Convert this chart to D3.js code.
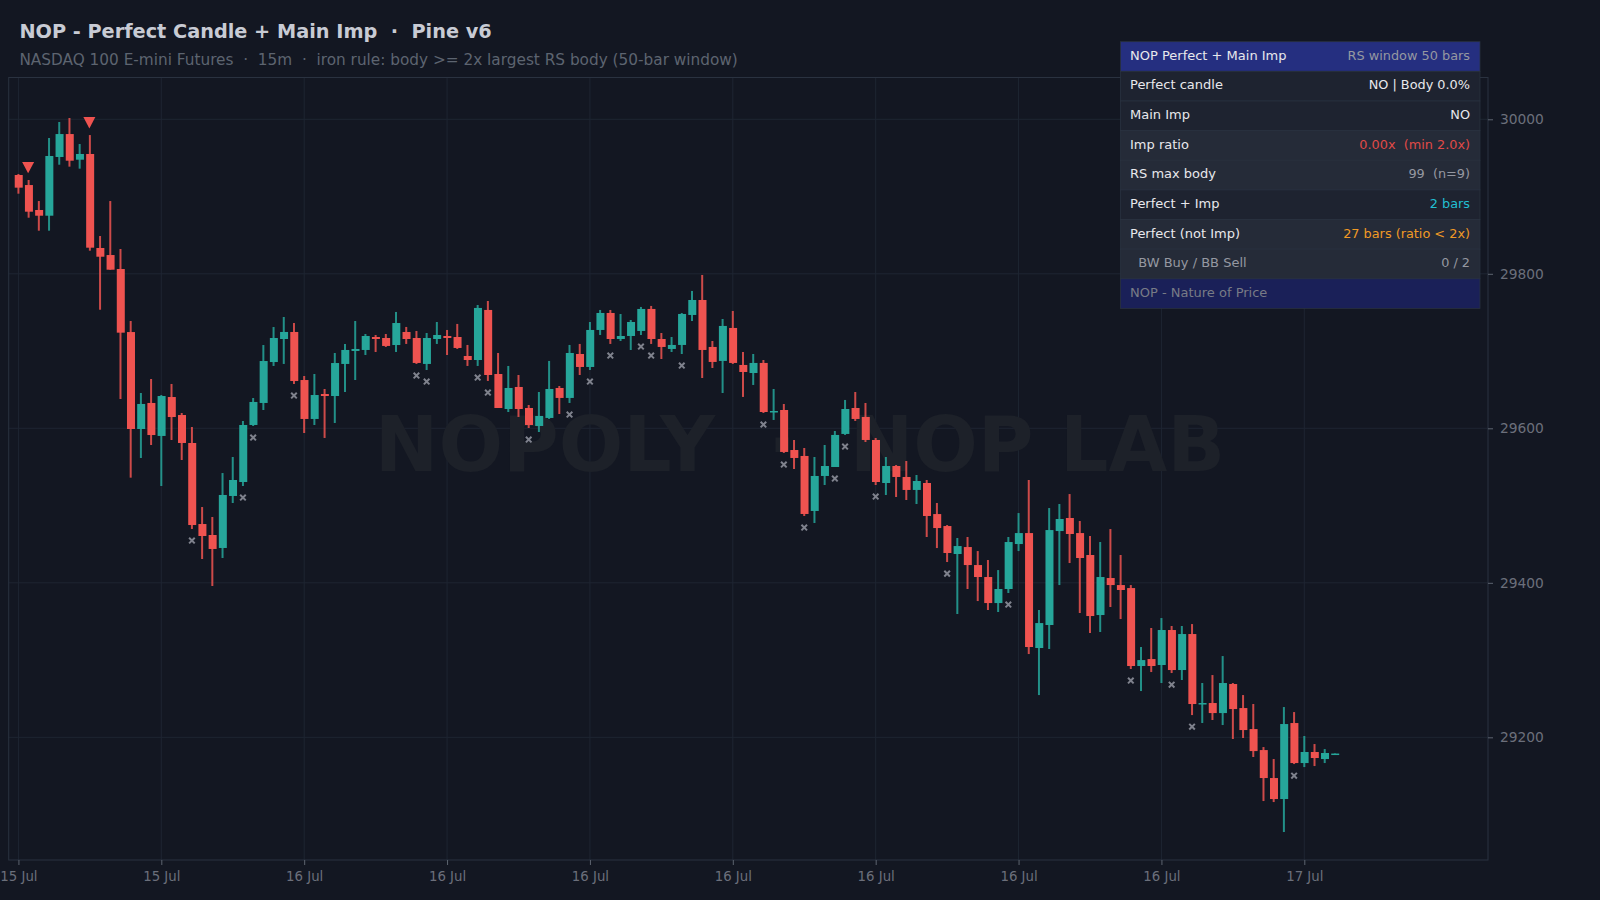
<!DOCTYPE html>
<html>
<head>
<meta charset="utf-8">
<title>NOP - Perfect Candle + Main Imp</title>
<script src="https://cdn.jsdelivr.net/npm/d3@7"></script>
<style>
    html, body { margin: 0; padding: 0; background: #131722; }
    svg { display: block; }
    text { font-family: "DejaVu Sans", sans-serif; white-space: pre; }
</style>
</head>
<body>
<div id="chart"></div>
<script>
// OHLC values, one entry per 15m bar
const opens = [29927.9,29914.9,29882.6,29875.2,29951.2,29980.9,29947.7,29955.1,29833.4,29824.3,29806.2,29724.6,29599.1,29632.8,29590.1,29640.5,29617.2,29581,29476.1,29461.9,
    29445.1,29512.4,29530.5,29604.3,29632.8,29685.8,29715.6,29724.7,29662.5,29612.1,29644.4,29641.8,29683.3,29700.1,29701.4,29718.2,29716.9,29707.8,29724.7,29716.9,
    29683.3,29715.6,29719.5,29718.2,29693.6,29688.4,29753.2,29670.3,29625,29653.5,29626.3,29603,29613.4,29652.2,29639.3,29696.2,29679.4,29727.3,29749.3,29715.6,
    29719.5,29726,29754.5,29715.6,29702.7,29707.9,29746.7,29766.1,29705.3,29687.2,29729.9,29682,29671.6,29684.6,29621.1,29623.7,29571.9,29564.2,29493,29538.3,
    29549.9,29592.7,29626.3,29614.7,29584.9,29529.2,29551.2,29537,29520.2,29529.2,29489,29473.5,29437.3,29446.3,29423,29407.5,29373.8,29392,29450.2,29464.4,
    29315.6,29345.4,29467,29483.9,29464.4,29436,29358.3,29406.2,29397.1,29393.2,29292.3,29301.3,29293.6,29338.9,29287.1,29333.7,29243.1,29244.4,29231.4,29269,
    29237.9,29210.7,29183.5,29147.3,29120.1,29218.5,29166.7,29181,29171.9,29179];
const highs = [29929.2,29921.4,29894.2,29975.8,29996.5,30001.7,29968,29979.6,29848.9,29894.2,29832.1,29738.9,29645.7,29663.8,29643.1,29657.4,29619.8,29601.7,29498.1,29485.2,
    29542.1,29562.9,29609.5,29639.2,29707.8,29731.1,29744.1,29736.3,29667.7,29670.3,29650.9,29697.5,29709.1,29738.9,29722.1,29720.8,29722.1,29750.6,29731.2,29726,
    29723.4,29737.6,29727.3,29735.1,29707.9,29759.6,29764.8,29697.5,29680.7,29669,29630.2,29647,29687.2,29654.8,29707.9,29709.2,29737.6,29753.2,29753.2,29748,
    29740.2,29757.1,29758.4,29723.4,29718.2,29749.3,29777.8,29798.5,29713,29741.5,29751.9,29698.8,29696.2,29688.4,29650.9,29631.5,29584.9,29574.5,29562.9,29578.4,
    29596.5,29636.7,29647,29632.8,29587.5,29562.9,29552.5,29557.7,29539.6,29533.1,29503.3,29474.8,29458,29459.3,29441.1,29429.5,29416.5,29459.3,29490.3,29533.1,
    29364.8,29496.8,29502,29514.9,29480,29460.6,29452.8,29469.6,29436,29397.1,29316.9,29341.5,29354.4,29344.1,29344.1,29346.6,29270.3,29280.6,29305.2,29270.3,
    29254.7,29243.1,29187.4,29171.9,29239.2,29232.7,29201.7,29191.3,29184.8,29179.5];
const lows = [29903.7,29872.6,29855.8,29855.8,29941.2,29938.7,29936.1,29829.9,29753.5,29805.3,29637.9,29536.1,29561.6,29578.4,29525.3,29584.9,29559,29469.7,29430.8,29395.9,
    29432.1,29503.3,29525.3,29603,29623.7,29680.7,29683.3,29657.4,29593.9,29604.3,29587.5,29606.9,29647,29662.5,29694.9,29698.8,29705.3,29698.8,29709.2,29683.3,
    29675.5,29709.2,29694.9,29702.7,29680.7,29680.7,29661.3,29626.3,29621.1,29614.7,29600.4,29595.2,29612.1,29618.5,29632.8,29669,29675.5,29720.8,29709.2,29713,
    29701.4,29720.8,29709.2,29689.7,29698.8,29696.2,29738.9,29665.1,29678.1,29645.7,29683.3,29640.6,29656.1,29619.8,29610.8,29568.1,29547.3,29486.5,29477.4,29526.6,
    29549.9,29591.4,29609.5,29582.3,29526.6,29513.7,29511.1,29507.2,29502,29459.3,29445,29426.9,29359.6,29392,29376.4,29364.8,29362.2,29386.8,29441.1,29307.8,
    29254.7,29314.3,29397.1,29425.6,29360.9,29335,29336.3,29368.7,29353.1,29288.4,29259.9,29284.5,29270.3,29283.2,29274.2,29228.8,29218.5,29222.4,29215.9,29197.8,
    29199.1,29174.5,29117.5,29116.2,29077.4,29165.4,29161.5,29162.8,29166.7,29178.8];
const closes = [29911.5,29880.4,29875.2,29952.5,29980.9,29946.4,29955.1,29833.8,29822.1,29805.3,29723.8,29599.1,29631.5,29591.3,29641.8,29614.6,29581,29474.8,29460.6,29443.8,
    29513.7,29533.1,29604.3,29634.1,29687.1,29716.9,29724.7,29661.2,29612.1,29643.1,29641.8,29684.5,29701.4,29702.7,29719.5,29715.6,29706.6,29736.3,29715.6,29684.6,
    29716.9,29720.8,29716.9,29704,29688.4,29755.8,29669,29626.3,29652.2,29625,29604.3,29616,29650.9,29639.3,29697.5,29679.4,29727.3,29749.3,29715.6,29719.5,
    29737.6,29754.5,29715.6,29705.3,29707.9,29748,29766.1,29701.4,29685.9,29732.5,29684.6,29672.9,29684.6,29621.1,29622.4,29569.4,29561.6,29489.1,29538.3,29551.2,
    29591.4,29625,29612.1,29584.9,29530.5,29551.2,29537,29520.2,29531.8,29486.5,29470.9,29438.6,29447.6,29423,29407.5,29373.8,29392,29452.8,29464.4,29316.9,
    29347.9,29468.3,29482.6,29463.2,29432.1,29357,29407.5,29397.1,29390.7,29292.3,29300,29292.3,29338.9,29287.1,29333.7,29243.1,29244.4,29231.4,29270.3,29236.6,
    29209.4,29182.2,29147.3,29120.1,29217.2,29166.7,29181,29173.2,29179.7,29179];

// bar indexes carrying a signal
const perfectImpBars = [1, 7];
const perfectOnlyBars = [17,22,23,27,39,40,45,46,50,54,56,58,61,62,65,73,75,77,80,81,84,91,97,109,113,115,125];

// axis ticks
const yTicks = [29200, 29400, 29600, 29800, 30000];
const xTickBars = [0, 14, 28, 42, 56, 70, 84, 98, 112, 126];
const xTickLabels = ["15 Jul","15 Jul","16 Jul","16 Jul","16 Jul","16 Jul","16 Jul","16 Jul","16 Jul","17 Jul"];

// info table
const rowLabels = ["NOP Perfect + Main Imp","Perfect candle","Main Imp","Imp ratio","RS max body","Perfect + Imp","Perfect (not Imp)","  BW Buy / BB Sell","NOP - Nature of Price"];
const rowValues = ["RS window 50 bars","NO | Body 0.0%","NO","0.00x  (min 2.0x)","99  (n=9)","2 bars","27 bars (ratio < 2x)","0 / 2",""];
const rowFills = ["#252f80","#1e2330","#1e2330","#252b38","#252b38","#1e2330","#252b38","#252b38","#1a2058"];
const labelColors = ["#e8e8ec","#e8e8ec","#e8e8ec","#e8e8ec","#e8e8ec","#e8e8ec","#e8e8ec","#9598a1","#787b86"];
const valueColors = ["#9598a1","#e8e8ec","#e8e8ec","#e04a47","#9598a1","#22bfd2","#f09a25","#9598a1","#787b86"];

const width = 1600, height = 900;
const plot = {left: 8.7, right: 1488, top: 77.5, bottom: 860};
const upColor = "#26a69a", downColor = "#ef5350";
const gridColor = "#1e2532", frameColor = "#2a3240", tickColor = "#5d6470", tickText = "#6b6f7b";
const impOffset = 16, perfectOffset = 15; // price distance of a marker from the bar's extreme

// 0 maps to 18.4px and every bar takes about 10.2px
const xScale = d3.scaleLinear().domain([-0.953, 144]).range([plot.left, plot.right]);
const yScale = d3.scaleLinear().domain([29041.2, 30054.1]).range([plot.bottom, plot.top]);

const svg = d3.select("#chart").append("svg").attr("width", width).attr("height", height);
svg.append("rect").attr("width", width).attr("height", height).attr("fill", "#131722");

// grid
const grid = svg.append("g");
grid.selectAll(".gy").data(yTicks).join("line").attr("class", "gy")
    .attr("x1", plot.left).attr("x2", plot.right)
    .attr("y1", d => yScale(d)).attr("y2", d => yScale(d))
    .attr("stroke", gridColor).attr("stroke-width", 1);
grid.selectAll(".gx").data(xTickBars).join("line").attr("class", "gx")
    .attr("y1", plot.top).attr("y2", plot.bottom)
    .attr("x1", d => xScale(d)).attr("x2", d => xScale(d))
    .attr("stroke", gridColor).attr("stroke-width", 1);

// watermark sits under the candles
svg.append("text").attr("x", 800).attr("y", 471).attr("text-anchor", "middle")
    .attr("font-size", 76).attr("font-weight", "bold").attr("fill", "#1d2129")
    .text("NOPOLY  ·  NOP LAB");

// frame
svg.append("rect").attr("x", plot.left).attr("y", plot.top)
    .attr("width", plot.right - plot.left).attr("height", plot.bottom - plot.top)
    .attr("fill", "none").attr("stroke", frameColor).attr("stroke-width", 1);

// candles
const bars = d3.range(opens.length);
const barColor = i => closes[i] >= opens[i] ? upColor : downColor;
const candles = svg.append("g");
candles.selectAll(".wick").data(bars).join("line").attr("class", "wick")
    .attr("x1", i => xScale(i)).attr("x2", i => xScale(i))
    .attr("y1", i => yScale(highs[i])).attr("y2", i => yScale(lows[i]))
    .attr("stroke", barColor).attr("stroke-width", 2).attr("stroke-opacity", 0.85);
candles.selectAll(".body").data(bars).join("rect").attr("class", "body")
    .attr("x", i => xScale(i) - 3.7).attr("width", 8)
    .attr("y", i => yScale(Math.max(opens[i], closes[i])))
    .attr("height", i => Math.max(1.5, Math.abs(yScale(opens[i]) - yScale(closes[i]))))
    .attr("fill", barColor);

// signals
svg.append("g").selectAll("path").data(perfectImpBars).join("path")
    .attr("d", "M-6,-5.7L6,-5.7L0,5.7Z")
    .attr("transform", i => `translate(${xScale(i) - 0.5},${yScale(highs[i] + impOffset)})`)
    .attr("fill", downColor);
svg.append("g").selectAll("path").data(perfectOnlyBars).join("path")
    .attr("d", "M-2.8,-2.8L2.8,2.8M-2.8,2.8L2.8,-2.8")
    .attr("transform", i => `translate(${xScale(i)},${yScale(lows[i] - perfectOffset)})`)
    .attr("fill", "none").attr("stroke", "#7f828d").attr("stroke-width", 2);

// axes
const xAxis = d3.axisBottom(xScale).tickValues(xTickBars).tickSize(5).tickPadding(7)
    .tickFormat((d, i) => xTickLabels[i]);
const yAxis = d3.axisRight(yScale).tickValues(yTicks).tickSize(5).tickPadding(7)
    .tickFormat(d3.format("d"));
svg.append("g").attr("transform", `translate(0,${plot.bottom})`).call(xAxis)
    .call(g => g.select(".domain").remove());
svg.append("g").attr("transform", `translate(${plot.right},0)`).call(yAxis)
    .call(g => g.select(".domain").remove());
svg.selectAll(".tick line").attr("stroke", tickColor);
svg.selectAll(".tick text").attr("fill", tickText).attr("font-size", 13.3)
    .attr("font-family", "DejaVu Sans");
svg.selectAll(".tick text").filter(d => d > 1000).attr("font-size", 13.8);

// titles
svg.append("text").attr("x", 19.4).attr("y", 37.6).attr("font-size", 19.3).attr("font-weight", "bold")
    .attr("fill", "#c8cbd4").text("NOP - Perfect Candle + Main Imp  ·  Pine v6");
svg.append("text").attr("x", 19.4).attr("y", 64.5).attr("font-size", 15.3).attr("fill", "#5d6470")
    .text("NASDAQ 100 E-mini Futures  ·  15m  ·  iron rule: body >= 2x largest RS body (50-bar window)");

// info table
const tableLeft = 1120.5, tableRight = 1480, tableTop = 41.7, rowHeight = 29.63;
const rows = svg.append("g").selectAll("g").data(rowLabels).join("g")
    .attr("transform", (d, i) => `translate(0,${tableTop + i * rowHeight})`);
rows.append("rect").attr("x", tableLeft).attr("width", tableRight - tableLeft).attr("height", rowHeight)
    .attr("fill", (d, i) => rowFills[i]).attr("stroke", "#2a3240").attr("stroke-width", 0.8);
rows.append("text").attr("x", tableLeft + 9.5).attr("y", rowHeight / 2 + 3.3).attr("font-size", 13)
    .attr("fill", (d, i) => labelColors[i]).text(d => d);
rows.append("text").attr("x", tableRight - 10).attr("y", rowHeight / 2 + 3.3).attr("font-size", 12.85)
    .attr("text-anchor", "end").attr("fill", (d, i) => valueColors[i]).text((d, i) => rowValues[i]);
</script>
</body>
</html>
